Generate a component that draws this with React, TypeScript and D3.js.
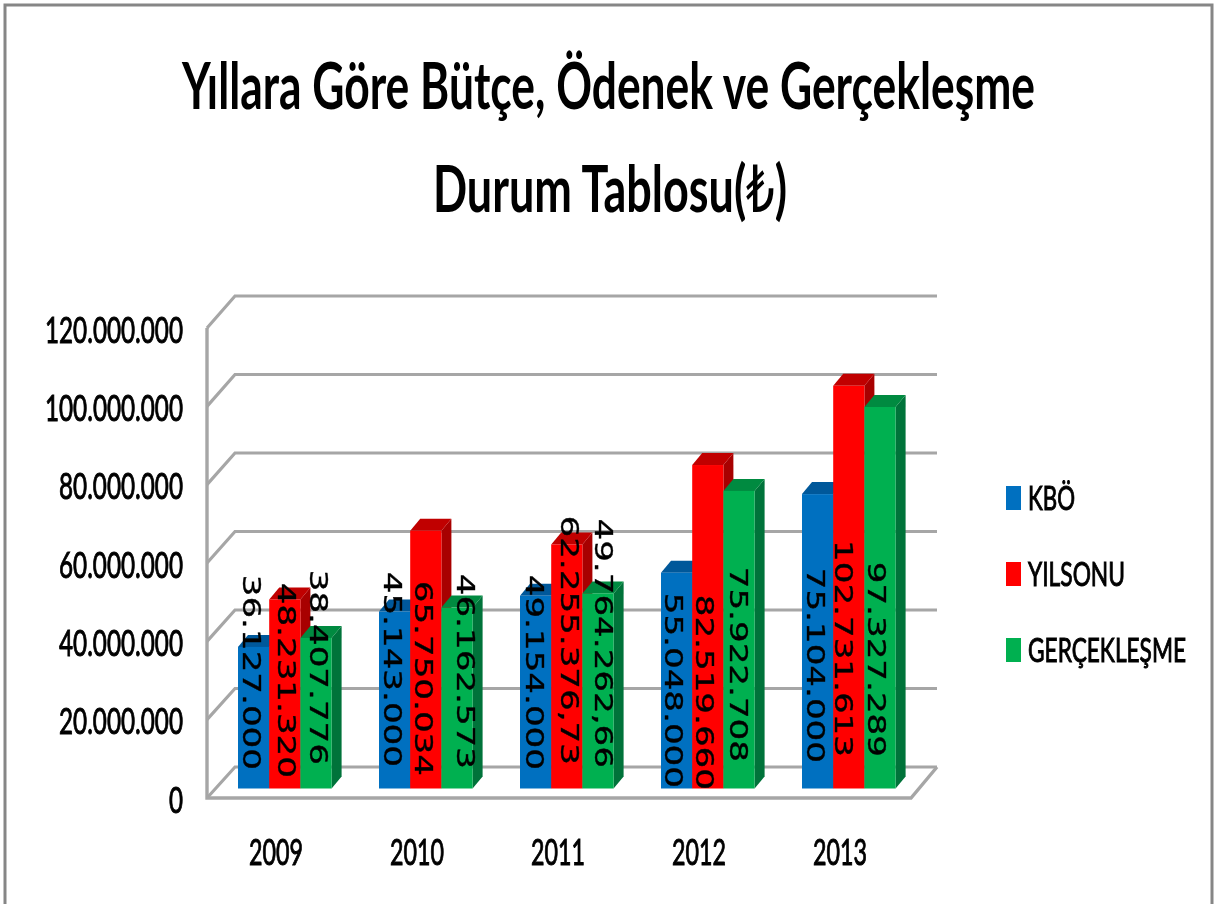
import React from "react";
import * as d3 from "d3";

const titleLines = ["Yıllara Göre Bütçe, Ödenek ve Gerçekleşme", "Durum Tablosu(₺)"];
const years = ["2009", "2010", "2011", "2012", "2013"];
const seriesNames = ["KBÖ", "YILSONU", "GERÇEKLEŞME"];
const kbo = [36127000, 45143000, 49154000, 55048000, 75104000];
const yilsonu = [48231320, 65750034, 62255376.73, 82519660, 102731613];
const gerceklesme = [38407776, 46162573, 49764262.66, 75922708, 97327289];
const yTicks = [0, 20000000, 40000000, 60000000, 80000000, 100000000, 120000000];

// Layout only: hand-placed data labels, per series then per year
const labelCenterX = [
  [252.5, 393.5, 535.5, 674, 816.5],
  [287.5, 424.5, 570.5, 705, 844],
  [319.5, 466.5, 604.5, 739.5, 877],
];
const labelEndY = [
  [770, 767, 770, 788, 763],
  [778, 776, 765, 790, 757],
  [765, 769, 768, 762, 757],
];
const legendBaselines = [510, 586, 662];
const legendTextWidths = [47, 97, 158];
const yearOffset = -1.5;

const faceColors = ["#0070C0", "#FF0000", "#00B050"];
const topColors = ["#00589A", "#C00000", "#008A40"];
const sideColors = ["#004F8C", "#A80000", "#00733A"];
const gridColor = "#A6A6A6";
const frameColor = "#868686";

const values = [kbo, yilsonu, gerceklesme];
const locale = d3.formatLocale({ decimal: ",", thousands: ".", grouping: [3], currency: ["", ""] });
const fmtInt = locale.format(",d");
const fmtDec = locale.format(",.2f");
const fmt = (v: number) => (Number.isInteger(v) ? fmtInt(v) : fmtDec(v));

const x0 = d3.scaleBand<string>().domain(years).range([207, 912]);
const barW = 31.2;
const barInset = 31;
const depthX = 10;
const depthY = 12;
const yBar = d3.scaleLinear().domain([0, 120000000]).range([788.5, 318.1]);
const yBack = d3.scaleLinear().domain([0, 120000000]).range([767, 296]);
const yWall = d3.scaleLinear().domain([0, 120000000]).range([798, 328]);
const line = d3.line<[number, number]>();

const HUMANIST = "LiraGlyph, Lato, 'DejaVu Sans', sans-serif";
const fontCss = `@font-face { font-family: LiraGlyph; src: local('DejaVu Sans'); unicode-range: U+20BA; font-weight: 700; }`;
const axisText = { fontFamily: HUMANIST, fontWeight: 400, fill: "#000", stroke: "#000", strokeWidth: 1 } as const;

function labelLength(s: string) {
  const digits = s.replace(/[^0-9]/g, "").length;
  return digits * 21.7 + (s.length - digits) * 10.85;
}
function tickLabelLength(s: string) {
  const digits = s.replace(/[^0-9]/g, "").length;
  return digits * 14 + (s.length - digits) * 6;
}

export default function App() {
  return (
    <svg width={1214} height={904} style={{ position: "absolute", left: 0, top: 0, display: "block" }}>
      <style>{fontCss}</style>
      <rect width={1214} height={904} fill="#fff" />
      <g style={{ filter: "blur(0.6px)" }}>
        <path d="M5,904 L5,5 L1212,5 L1212,904" fill="none" stroke={frameColor} strokeWidth={3} />

        <text x={182} y={109} textLength={853} lengthAdjust="spacingAndGlyphs" fontFamily={HUMANIST} fontWeight={700} fontSize={65} fill="#000">
          {titleLines[0]}
        </text>
        <text x={433} y={212} textLength={354} lengthAdjust="spacingAndGlyphs" fontFamily={HUMANIST} fontWeight={700} fontSize={65} fill="#000">
          {titleLines[1]}
        </text>

        {yTicks.map((t) => (
          <path
            key={t}
            d={line([[207, yWall(t)], [235, yBack(t)], [937, yBack(t)]]) as string}
            fill="none"
            stroke={gridColor}
            strokeWidth={3.2}
          />
        ))}
        <path d={line([[207, yWall(120000000)], [207, yWall(0)], [911, yWall(0)], [937, yBack(0)]]) as string} fill="none" stroke={gridColor} strokeWidth={3.4} />

        {yTicks.map((t) => {
          const s = fmtInt(t);
          const w = tickLabelLength(s);
          return (
            <text key={t} x={183 - w} y={yWall(t) + 14.5} textLength={w} lengthAdjust="spacingAndGlyphs" fontSize={37} {...axisText}>
              {s}
            </text>
          );
        })}

        {years.map((yr, i) => {
          const bx = (x0(yr) as number) + barInset;
          return (
            <g key={yr}>
              {values.map((arr, si) => {
                const x = bx + si * barW;
                const top = yBar(arr[i]);
                const base = yBar(0);
                return (
                  <g key={si}>
                    <path d={line([[x + barW, top], [x + barW + depthX, top - depthY], [x + barW + depthX, base - depthY], [x + barW, base]]) + "Z"} fill={sideColors[si]} />
                    <path d={line([[x, top], [x + depthX, top - depthY], [x + barW + depthX, top - depthY], [x + barW, top]]) + "Z"} fill={topColors[si]} />
                    <rect x={x} y={top} width={barW} height={base - top} fill={faceColors[si]} />
                  </g>
                );
              })}
            </g>
          );
        })}

        {years.map((yr, i) =>
          values.map((arr, si) => {
            const s = fmt(arr[i]);
            const len = labelLength(s);
            const cx = labelCenterX[si][i];
            const top = labelEndY[si][i] - len;
            return (
              <text
                key={yr + si}
                transform={`translate(${cx},${top}) rotate(90)`}
                y={9.1}
                textLength={len}
                lengthAdjust="spacingAndGlyphs"
                fontFamily="'DejaVu Sans', sans-serif"
                fontSize={25}
                fill="#000"
                stroke="#000"
                strokeWidth={0.35}
              >
                {s}
              </text>
            );
          })
        )}

        {years.map((yr) => (
          <text
            key={yr}
            x={(x0(yr) as number) + x0.bandwidth() / 2 + yearOffset - 27}
            y={865}
            textLength={54}
            lengthAdjust="spacingAndGlyphs"
            fontSize={37}
            {...axisText}
          >
            {yr}
          </text>
        ))}

        {seriesNames.map((n, i) => (
          <g key={n}>
            <rect x={1006} y={legendBaselines[i] - 24} width={15} height={24} fill={faceColors[i]} />
            <text x={1028} y={legendBaselines[i]} textLength={legendTextWidths[i]} lengthAdjust="spacingAndGlyphs" fontSize={33} {...axisText}>
              {n}
            </text>
          </g>
        ))}
      </g>
    </svg>
  );
}
